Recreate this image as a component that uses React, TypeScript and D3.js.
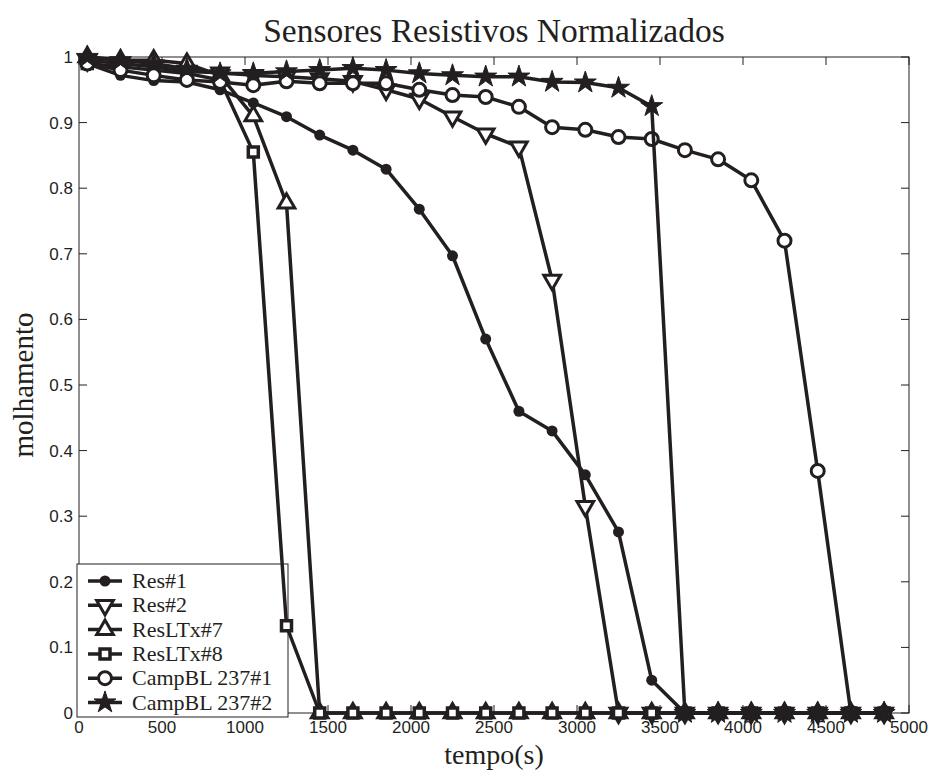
import * as d3 from 'd3'

// sample times (s)
const times = [50, 250, 450, 650, 850, 1050, 1250, 1450, 1650, 1850, 2050, 2250, 2450, 2650, 2850, 3050, 3250, 3450, 3650, 3850, 4050, 4250, 4450, 4650, 4850]

const res1 = [0.99, 0.972, 0.964, 0.962, 0.95, 0.93, 0.909, 0.881, 0.858, 0.829, 0.768, 0.697, 0.57, 0.46, 0.43, 0.363, 0.276, 0.05, 0, 0, 0, 0, 0, 0, 0]
const res2 = [0.995, 0.99, 0.985, 0.978, 0.976, 0.972, 0.97, 0.967, 0.963, 0.95, 0.936, 0.909, 0.883, 0.863, 0.66, 0.315, 0, 0, 0, 0, 0, 0, 0, 0, 0]
const resLTx7 = [1.0, 0.995, 0.995, 0.99, 0.972, 0.91, 0.777, 0, 0, 0, 0, 0, 0, 0, 0, 0, 0, 0, 0, 0, 0, 0, 0, 0, 0]
const resLTx8 = [0.99, 0.985, 0.98, 0.975, 0.965, 0.855, 0.133, 0, 0, 0, 0, 0, 0, 0, 0, 0, 0, 0, 0, 0, 0, 0, 0, 0, 0]
const camp1 = [0.99, 0.98, 0.972, 0.965, 0.962, 0.957, 0.963, 0.96, 0.96, 0.96, 0.95, 0.942, 0.939, 0.924, 0.893, 0.889, 0.878, 0.875, 0.858, 0.844, 0.812, 0.72, 0.369, 0, 0]
const camp2 = [1.0, 0.995, 0.99, 0.982, 0.975, 0.975, 0.978, 0.98, 0.983, 0.98, 0.975, 0.972, 0.97, 0.97, 0.962, 0.961, 0.953, 0.925, 0, 0, 0, 0, 0, 0, 0]

const seriesNames = ['Res#1', 'Res#2', 'ResLTx#7', 'ResLTx#8', 'CampBL 237#1', 'CampBL 237#2']
const seriesValues = [res1, res2, resLTx7, resLTx8, camp1, camp2]
const markerKinds = ['dot', 'down', 'up', 'square', 'circle', 'star']

const xTicks = [0, 500, 1000, 1500, 2000, 2500, 3000, 3500, 4000, 4500, 5000]
const yTicks = [0, 0.1, 0.2, 0.3, 0.4, 0.5, 0.6, 0.7, 0.8, 0.9, 1]

const INK = '#231f20'
const W = 931
const H = 771
const margin = { left: 79, right: 22, top: 57, bottom: 58 }
const SERIF = 'Liberation Serif, Times New Roman, serif'
const SANS = 'Liberation Sans, Arial, Helvetica, sans-serif'
const LW = 3.5

function Marker({ kind, x, y }: { kind: string; x: number; y: number }) {
  const t = `translate(${x},${y})`
  if (kind === 'dot') return <circle cx={x} cy={y} r={5.5} fill={INK} />
  if (kind === 'circle') return <circle cx={x} cy={y} r={6.5} fill="#fff" stroke={INK} strokeWidth={3} />
  if (kind === 'square') return <path transform={t} d={d3.symbol(d3.symbolSquare, 100)()!} fill="#fff" stroke={INK} strokeWidth={3.5} />
  if (kind === 'up') return <path transform={t} d={d3.symbol(d3.symbolTriangle, 120)()!} fill="#fff" stroke={INK} strokeWidth={3} />
  if (kind === 'down') return <path transform={`${t} rotate(180)`} d={d3.symbol(d3.symbolTriangle, 120)()!} fill="#fff" stroke={INK} strokeWidth={3} />
  return <path transform={t} d={d3.symbol(d3.symbolStar, 150)()!} fill={INK} stroke={INK} strokeWidth={1} />
}

export default function App() {
  const x = d3.scaleLinear([0, 5000], [margin.left, W - margin.right])
  const y = d3.scaleLinear([0, 1], [H - margin.bottom, margin.top])
  const line = d3.line<number>()
    .x((_, i) => x(times[i]))
    .y(d => y(d))

  const x0 = x(0), x1 = x(5000), y0 = y(0), y1 = y(1)
  const tk = 8

  // legend box (sits under the data lines, like the original)
  const lg = { left: 77, top: 564, width: 211, height: 153, row: 24.3 }

  return (
    <svg width={W} height={H} style={{ position: 'absolute', left: 0, top: 0, background: '#fff' }}>
      <rect x={0} y={0} width={W} height={H} fill="#fff" />
      <text x={(x0 + x1) / 2} y={42} textAnchor="middle" fontFamily={SERIF} fontSize={33.5} fill={INK}>
        Sensores Resistivos Normalizados
      </text>

      {/* box + ticks */}
      <rect x={x0} y={y1} width={x1 - x0} height={y0 - y1} fill="none" stroke={INK} strokeWidth={1} />
      {xTicks.map(v => (
        <g key={'x' + v}>
          <line x1={x(v)} x2={x(v)} y1={y0} y2={y0 - tk} stroke={INK} />
          <line x1={x(v)} x2={x(v)} y1={y1} y2={y1 + tk} stroke={INK} />
          <text x={x(v)} y={y0 + 20} textAnchor="middle" fontFamily={SANS} fontSize={17} fill={INK}>{v}</text>
        </g>
      ))}
      {yTicks.map(v => (
        <g key={'y' + v}>
          <line x1={x0} x2={x0 + tk} y1={y(v)} y2={y(v)} stroke={INK} />
          <line x1={x1} x2={x1 - tk} y1={y(v)} y2={y(v)} stroke={INK} />
          <text x={x0 - 6} y={y(v) + 6} textAnchor="end" fontFamily={SANS} fontSize={17} fill={INK}>{v}</text>
        </g>
      ))}

      <text x={(x0 + x1) / 2} y={764} textAnchor="middle" fontFamily={SERIF} fontSize={28} fill={INK}>tempo(s)</text>
      <text transform={`translate(33,${(y0 + y1) / 2}) rotate(-90)`} textAnchor="middle" fontFamily={SERIF} fontSize={29} fill={INK}>molhamento</text>

      {/* legend */}
      <rect x={lg.left} y={lg.top} width={lg.width} height={lg.height} fill="#fff" stroke={INK} strokeWidth={1} />
      {seriesNames.map((name, s) => {
        const ry = lg.top + 17 + s * lg.row
        return (
          <g key={'lg' + name}>
            <line x1={88} x2={122} y1={ry} y2={ry} stroke={INK} strokeWidth={LW} />
            <Marker kind={markerKinds[s]} x={105} y={ry} />
            <text x={132} y={ry + 7} fontFamily={SERIF} fontSize={22} fill={INK}>{name}</text>
          </g>
        )
      })}

      {/* series */}
      {seriesValues.map((vals, s) => (
        <g key={seriesNames[s]}>
          <path d={line(vals)!} fill="none" stroke={INK} strokeWidth={LW} strokeLinejoin="round" />
          {vals.map((v, i) => <Marker key={i} kind={markerKinds[s]} x={x(times[i])} y={y(v)} />)}
        </g>
      ))}
    </svg>
  )
}
